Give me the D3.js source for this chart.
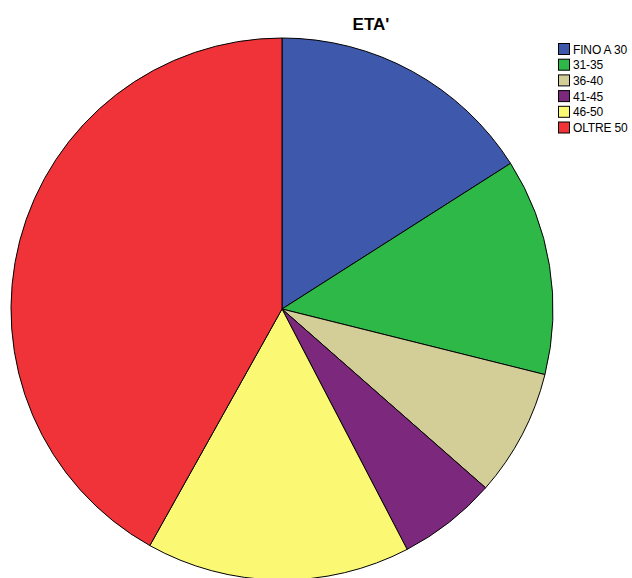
<!DOCTYPE html>
<html>
<head>
<meta charset="utf-8">
<script src="https://cdn.jsdelivr.net/npm/d3@7"></script>
<style>
  html, body { margin: 0; padding: 0; background: #fff; }
  svg { display: block; }
</style>
</head>
<body>
<svg id="chart" width="632" height="578"></svg>
<script>
// Age groups and their shares (%)
const categories = ["FINO A 30", "31-35", "36-40", "41-45", "46-50", "OLTRE 50"];
const values = [15.97, 12.92, 7.58, 5.89, 15.75, 41.89];
const colors = ["#3E58AC", "#2EB848", "#D3CE97", "#7C287D", "#FBF873", "#EF3338"];
const title = "ETA'";

const svg = d3.select("#chart");
const cx = 282, cy = 309, radius = 271;

const data = categories.map((c, i) => ({ label: c, value: values[i], color: colors[i] }));

const pie = d3.pie().value(d => d.value).sort(null);
const arc = d3.arc().innerRadius(0).outerRadius(radius);

const g = svg.append("g").attr("transform", `translate(${cx},${cy})`);
g.selectAll("path")
  .data(pie(data))
  .join("path")
  .attr("d", arc)
  .attr("fill", d => d.data.color)
  .attr("stroke", "#000")
  .attr("stroke-width", 1)
  .attr("stroke-linejoin", "round");

// Title
svg.append("text")
  .attr("x", 371)
  .attr("y", 30)
  .attr("text-anchor", "middle")
  .attr("font-family", "Liberation Sans, Arial, sans-serif")
  .attr("font-weight", "bold")
  .attr("font-size", 17)
  .text(title);

// Legend
const legend = svg.append("g").attr("transform", "translate(558.5,43.5)");
const row = 15.7;
const items = legend.selectAll("g")
  .data(data)
  .join("g")
  .attr("transform", (d, i) => `translate(0,${i * row})`);
items.append("rect")
  .attr("x", 0).attr("y", 0)
  .attr("width", 11).attr("height", 11)
  .attr("fill", d => d.color)
  .attr("stroke", "#000")
  .attr("stroke-width", 1);
items.append("text")
  .attr("x", 14.5)
  .attr("y", 10)
  .attr("font-family", "Liberation Sans, Arial, sans-serif")
  .attr("font-size", 12)
  .attr("letter-spacing", -0.15)
  .attr("fill", "#000")
  .text(d => d.label);
</script>
</body>
</html>
